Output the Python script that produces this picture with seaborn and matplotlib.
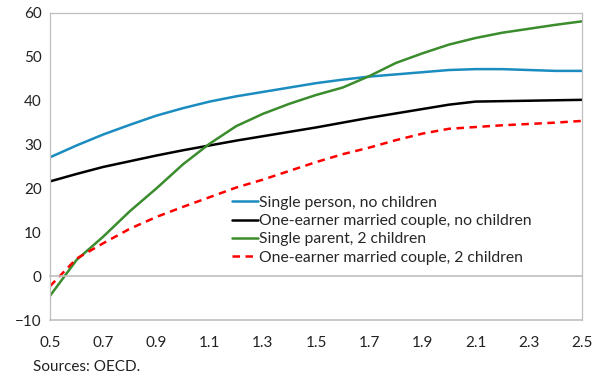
import numpy as np
import pandas as pd
import matplotlib
matplotlib.use("Agg")
import matplotlib.pyplot as plt
import seaborn as sns

sns.set_style("white")
plt.rcParams['font.family'] = ['Lato', 'DejaVu Sans']

# wage level (multiple of average wage)
x = [0.5, 0.6, 0.7, 0.8, 0.9, 1.0, 1.1, 1.2, 1.3, 1.4, 1.5,
     1.6, 1.7, 1.8, 1.9, 2.0, 2.1, 2.2, 2.3, 2.4, 2.5]

single_no_child = [27.1, 29.8, 32.3, 34.5, 36.6, 38.3, 39.8, 41.0, 42.0, 43.0, 44.0,
                   44.8, 45.5, 46.0, 46.5, 47.0, 47.2, 47.2, 47.0, 46.8, 46.8]
couple_no_child = [21.6, 23.3, 24.9, 26.2, 27.5, 28.7, 29.8, 30.9, 31.9, 32.9, 33.9,
                   35.0, 36.1, 37.1, 38.1, 39.1, 39.8, 39.9, 40.0, 40.1, 40.2]
single_parent = [-4.5, 3.7, 9.0, 14.8, 20.0, 25.5, 30.2, 34.2, 37.0, 39.3, 41.3,
                 43.0, 45.6, 48.6, 50.8, 52.8, 54.3, 55.5, 56.4, 57.3, 58.1]
couple_2_child = [-2.3, 4.0, 7.5, 10.8, 13.5, 15.8, 18.0, 20.2, 22.0, 24.0, 26.0,
                  27.8, 29.3, 31.0, 32.5, 33.6, 34.0, 34.4, 34.7, 35.0, 35.4]

labels = ["Single person, no children",
          "One-earner married couple, no children",
          "Single parent, 2 children",
          "One-earner married couple, 2 children"]
colors = ["#1a8cc0", "#000000", "#3a8c2c", "#ff0000"]

df = pd.concat([
    pd.DataFrame({"x": x, "y": vals, "series": lab})
    for lab, vals in zip(labels, [single_no_child, couple_no_child,
                                  single_parent, couple_2_child])
])

fig = plt.figure(figsize=(5.92, 3.78), dpi=100)
ax = fig.add_axes([50 / 592, 1 - 320 / 378, 532 / 592, 307 / 378])

sns.lineplot(data=df, x="x", y="y", hue="series", style="series",
             palette=dict(zip(labels, colors)),
             dashes={labels[0]: "", labels[1]: "", labels[2]: "", labels[3]: (3, 2.2)},
             linewidth=1.8, ax=ax)

ax.set_xlim(0.5, 2.5)
ax.set_ylim(-10, 60)
ax.set_xticks(np.arange(0.5, 2.51, 0.2))
ax.set_xticklabels([f"{v:.1f}" for v in np.arange(0.5, 2.51, 0.2)])
ax.set_yticks(np.arange(-10, 61, 10))
ax.set_xlabel("")
ax.set_ylabel("")

grey = "#bfbfbf"
for s in ["top", "right", "left"]:
    ax.spines[s].set_color(grey)
    ax.spines[s].set_linewidth(0.9)
ax.spines["bottom"].set_position(("data", 0))
ax.spines["bottom"].set_color(grey)
ax.spines["bottom"].set_linewidth(1.2)
ax.axhline(-10, color=grey, lw=1.2, clip_on=False, zorder=5)

ax.tick_params(axis="x", direction="in", length=4, color=grey, pad=43,
               labelsize=11, labelcolor="#222222")
ax.tick_params(axis="y", direction="in", length=4, color=grey, pad=6,
               labelsize=11, labelcolor="#222222")

ax.legend(loc="upper left", bbox_to_anchor=(0.33, 0.425), frameon=False,
          fontsize=11.3, handlelength=1.65, handletextpad=0.1,
          labelspacing=0.27, borderaxespad=0)

fig.text(33 / 592, 1 - 367 / 378, "Sources: OECD.", fontsize=11,
         color="#222222", va="center", ha="left")

fig.savefig("out.png", dpi=100)
